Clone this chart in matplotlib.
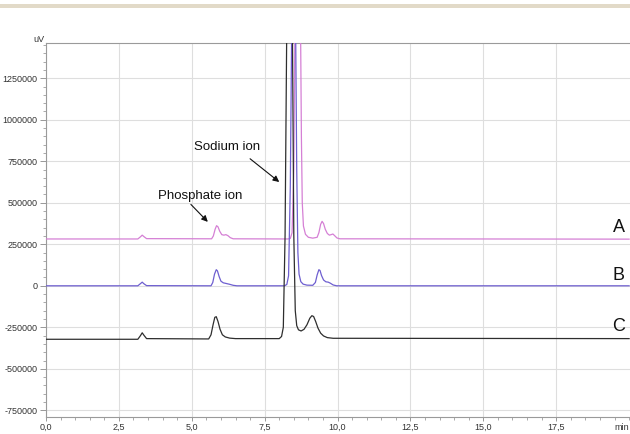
import matplotlib
matplotlib.use("Agg")
import matplotlib.pyplot as plt
from matplotlib.ticker import MultipleLocator, FixedLocator
from matplotlib.patches import Rectangle

plt.rcParams['font.family'] = ['Liberation Sans', 'DejaVu Sans']

# ---- data (time in min, signal in uV) ----
A_t = [0, 3.15, 3.24, 3.3, 3.36, 3.45, 5.68, 5.74, 5.8, 5.85, 5.9, 5.96, 6.03,
       6.1, 6.17, 6.24, 6.32, 6.42, 8.3, 8.38, 8.44, 8.5, 8.54, 8.73, 8.76,
       8.79, 8.83, 8.9, 9.0, 9.15, 9.3, 9.36, 9.42, 9.47, 9.52, 9.58, 9.65,
       9.72, 9.78, 9.84, 9.9, 9.98, 10.08, 20]
A_v = [282000, 282000, 295000, 305000, 296000, 284000, 283000, 300000, 340000,
       362000, 355000, 328000, 308000, 305000, 308000, 302000, 290000, 283000,
       282000, 285000, 320000, 700000, 1600000, 1600000, 900000, 500000,
       360000, 310000, 292000, 287000, 292000, 320000, 370000, 388000, 375000,
       340000, 315000, 305000, 308000, 312000, 302000, 288000, 283000, 281000]

B_t = [0, 3.15, 3.24, 3.3, 3.36, 3.45, 5.66, 5.72, 5.78, 5.84, 5.88, 5.94,
       6.0, 6.08, 6.18, 6.3, 6.42, 6.55, 8.18, 8.26, 8.32, 8.38, 8.43, 8.56,
       8.6, 8.64, 8.68, 8.74, 8.82, 8.95, 9.15, 9.24, 9.3, 9.36, 9.4, 9.45,
       9.52, 9.6, 9.68, 9.75, 9.85, 9.97, 20]
B_v = [0, 0, 13000, 22000, 12000, 1000, 0, 20000, 70000, 97000, 90000, 55000,
       28000, 18000, 14000, 9000, 3000, 0, 0, 8000, 60000, 600000, 1600000,
       1600000, 700000, 200000, 70000, 25000, 10000, 4000, 3000, 20000, 65000,
       97000, 92000, 62000, 35000, 24000, 22000, 16000, 5000, 0, 0]

C_t = [0, 3.15, 3.24, 3.3, 3.36, 3.45, 5.58, 5.66, 5.73, 5.79, 5.84, 5.9,
       5.97, 6.05, 6.15, 6.3, 6.5, 8.0, 8.08, 8.14, 8.2, 8.26, 8.45, 8.5,
       8.55, 8.6, 8.66, 8.75, 8.85, 8.95, 9.05, 9.12, 9.18, 9.25, 9.33, 9.42,
       9.52, 9.65, 9.85, 20]
C_v = [-322000, -322000, -300000, -283000, -298000, -318000, -320000, -295000,
       -235000, -190000, -186000, -215000, -262000, -295000, -308000, -315000,
       -318000, -318000, -305000, -250000, 300000, 1600000, 1600000, 300000,
       -150000, -240000, -265000, -272000, -262000, -235000, -195000, -180000,
       -185000, -215000, -255000, -285000, -302000, -312000, -316000, -318000]

trace_labels = ["A", "B", "C"]
x_ticks = [0, 2.5, 5.0, 7.5, 10.0, 12.5, 15.0, 17.5]
x_ticklabels = ["0,0", "2,5", "5,0", "7,5", "10,0", "12,5", "15,0", "17,5"]
y_ticks = [-750000, -500000, -250000, 0, 250000, 500000, 750000, 1000000, 1250000]

W, H = 630, 434
fig = plt.figure(figsize=(W / 100, H / 100), dpi=100)
fig.patch.set_facecolor("white")

# beige band at top
fig.patches.append(Rectangle((0, 1 - 8 / H), 1, 4 / H, transform=fig.transFigure,
                             facecolor="#e2dac8", edgecolor="none"))

L, R, T, B = 46, 632, 43, 417
ax = fig.add_axes([L / W, 1 - B / H, (R - L) / W, (B - T) / H])

ax.plot(A_t, A_v, color="#d580d5", lw=0.9, zorder=3)
ax.plot(B_t, B_v, color="#6e5fd0", lw=0.9, zorder=4)
ax.plot(C_t, C_v, color="#2e2e2e", lw=0.9, zorder=5)

ax.set_xlim(0, 20.1)
ax.set_ylim(-790000, 1462000)

ax.xaxis.set_major_locator(FixedLocator(x_ticks))
ax.set_xticklabels(x_ticklabels)
ax.xaxis.set_minor_locator(MultipleLocator(0.5))
ax.yaxis.set_major_locator(FixedLocator(y_ticks))
ax.yaxis.set_minor_locator(MultipleLocator(50000))
ax.set_yticklabels([str(v) for v in y_ticks])

ax.tick_params(axis="both", which="major", labelsize=6.5, colors="#888888",
               labelcolor="#333333", length=4, width=0.6, pad=2)
ax.tick_params(axis="x", which="major", length=3, pad=1.5)
ax.tick_params(axis="both", which="minor", colors="#888888", length=2.5, width=0.5)

ax.grid(True, which="major", color="#dedede", lw=0.8)
ax.set_axisbelow(True)
for s in ax.spines.values():
    s.set_color("#9a9a9a")
    s.set_linewidth(0.8)

# trace letters
for lab, yv in zip(trace_labels, [350000, 60000, -245000]):
    ax.text(19.65, yv, lab, fontsize=13, color="#111111", ha="center", va="center")

# annotations (text and arrows drawn separately)
ax.text(5.28, 540000, "Phosphate ion", fontsize=9.5, color="#111111",
        ha="center", va="center")
ax.annotate("", xy=(5.55, 385000), xytext=(4.97, 490000),
            arrowprops=dict(arrowstyle="-|>", color="#111111", lw=0.8,
                            shrinkA=0, shrinkB=0, mutation_scale=9))
ax.text(6.2, 835000, "Sodium ion", fontsize=9.5, color="#111111",
        ha="center", va="center")
ax.annotate("", xy=(8.0, 625000), xytext=(7.0, 765000),
            arrowprops=dict(arrowstyle="-|>", color="#111111", lw=0.8,
                            shrinkA=0, shrinkB=0, mutation_scale=9))

fig.text(39 / W, 1 - 39 / H, "uV", fontsize=6.5, color="#333333", ha="center", va="center")
fig.text(622 / W, 1 - 427 / H, "min", fontsize=6.5, color="#333333", ha="center", va="center")

fig.savefig("out.png", dpi=100)
